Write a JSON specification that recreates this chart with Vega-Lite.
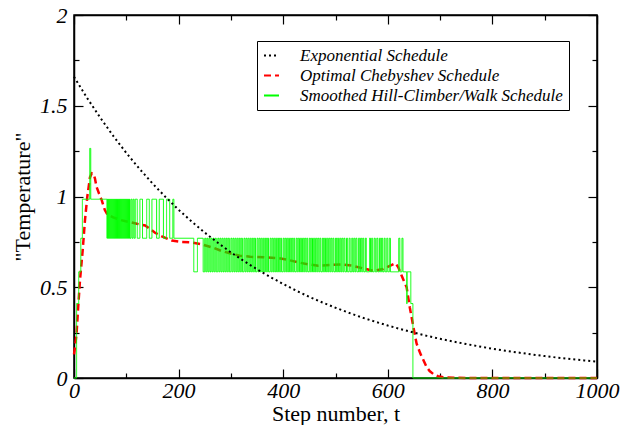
{
  "$schema": "https://vega.github.io/schema/vega-lite/v6.json",
  "width": 523,
  "height": 363,
  "autosize": "none",
  "padding": {"left": 74, "top": 15, "right": 32, "bottom": 47},
  "background": "white",
  "config": {
    "view": {"stroke": "black", "strokeWidth": 1.5},
    "font": "Liberation Serif, Times New Roman, serif",
    "axis": {"grid": false, "domainColor": "black", "domainWidth": 1.5, "tickColor": "black", "tickWidth": 1.2, "labelColor": "black", "titleColor": "black",
      "labelFont": "Liberation Serif, Times New Roman, serif", "labelFontStyle": "italic", "titleFont": "Liberation Serif, Times New Roman, serif"},
    "legend": {"labelFont": "Liberation Serif, Times New Roman, serif", "labelFontStyle": "italic"}
  },
  "datasets": {
    "exp": [
      {"t":0,"T":1.66},{"t":25,"T":1.543},{"t":50,"T":1.435},{"t":75,"T":1.334},{"t":100,"T":1.24},{"t":125,"T":1.153},{"t":150,"T":1.072},{"t":175,"T":0.997},{"t":200,"T":0.927},{"t":225,"T":0.862},{"t":250,"T":0.801},{"t":275,"T":0.745},{"t":300,"T":0.692},{"t":325,"T":0.644},{"t":350,"T":0.599},{"t":375,"T":0.557},{"t":400,"T":0.518},{"t":425,"T":0.481},{"t":450,"T":0.447},{"t":475,"T":0.416},{"t":500,"T":0.387},{"t":525,"T":0.36},{"t":550,"T":0.334},{"t":575,"T":0.311},{"t":600,"T":0.289},{"t":625,"T":0.269},{"t":650,"T":0.25},{"t":675,"T":0.232},{"t":700,"T":0.216},{"t":725,"T":0.201},{"t":750,"T":0.187},{"t":775,"T":0.174},{"t":800,"T":0.161},{"t":825,"T":0.15},{"t":850,"T":0.14},{"t":875,"T":0.13},{"t":900,"T":0.121},{"t":925,"T":0.112},{"t":950,"T":0.104},{"t":975,"T":0.097},{"t":1000,"T":0.09}
    ],
    "cheb": [
      {"t":0,"T":0.13},{"t":2,"T":0.17},{"t":5,"T":0.25},{"t":8,"T":0.39},{"t":11.5,"T":0.54},{"t":16.5,"T":0.7},{"t":21,"T":0.87},{"t":25.5,"T":1.0},{"t":30.5,"T":1.105},{"t":34,"T":1.128},{"t":37,"T":1.125},{"t":40,"T":1.1},{"t":43,"T":1.054},{"t":48,"T":1.015},{"t":53,"T":0.98},{"t":59,"T":0.925},{"t":64,"T":0.9},{"t":75,"T":0.885},{"t":90,"T":0.87},{"t":105,"T":0.86},{"t":120,"T":0.85},{"t":136,"T":0.84},{"t":146,"T":0.82},{"t":155,"T":0.8},{"t":168,"T":0.78},{"t":187,"T":0.757},{"t":203,"T":0.75},{"t":225,"T":0.747},{"t":244,"T":0.736},{"t":266,"T":0.718},{"t":282,"T":0.7},{"t":298,"T":0.687},{"t":317,"T":0.674},{"t":337,"T":0.668},{"t":362,"T":0.665},{"t":391,"T":0.66},{"t":410,"T":0.65},{"t":429,"T":0.637},{"t":448,"T":0.626},{"t":467,"T":0.619},{"t":493,"T":0.623},{"t":512,"T":0.626},{"t":532,"T":0.619},{"t":553,"T":0.604},{"t":572,"T":0.59},{"t":591,"T":0.6},{"t":610,"T":0.626},{"t":615,"T":0.632},{"t":620,"T":0.61},{"t":626,"T":0.567},{"t":630,"T":0.54},{"t":636,"T":0.5},{"t":642,"T":0.39},{"t":649,"T":0.28},{"t":655,"T":0.19},{"t":662,"T":0.136},{"t":668,"T":0.099},{"t":674,"T":0.062},{"t":680,"T":0.038},{"t":687,"T":0.022},{"t":696,"T":0.01},{"t":706,"T":0.004},{"t":725,"T":0.001},{"t":760,"T":0},{"t":1000,"T":0}
    ],
    "walk": [
      {"t":0,"T":0},{"t":5,"T":0.41},{"t":9,"T":0.585},{"t":13,"T":0.77},{"t":16,"T":0.985},{"t":30,"T":1.265},{"t":32,"T":0.985},
      {"t":63,"T":0.77},{"t":64,"T":0.985},{"t":65,"T":0.77},{"t":66,"T":0.985},{"t":67,"T":0.77},{"t":68,"T":0.985},{"t":69,"T":0.77},{"t":70,"T":0.985},{"t":71,"T":0.77},{"t":72,"T":0.985},{"t":73,"T":0.77},{"t":74,"T":0.985},{"t":75,"T":0.77},{"t":76,"T":0.985},{"t":77,"T":0.77},{"t":78,"T":0.985},{"t":79,"T":0.77},{"t":80,"T":0.985},{"t":81,"T":0.77},{"t":82,"T":0.985},{"t":83,"T":0.77},{"t":84,"T":0.985},{"t":85,"T":0.77},{"t":86,"T":0.985},{"t":87,"T":0.77},{"t":88,"T":0.985},{"t":89,"T":0.77},{"t":90,"T":0.985},{"t":91,"T":0.77},{"t":92,"T":0.985},{"t":93,"T":0.77},{"t":94,"T":0.985},{"t":95,"T":0.77},{"t":96,"T":0.985},{"t":97,"T":0.77},{"t":98,"T":0.985},{"t":99,"T":0.77},{"t":100,"T":0.985},{"t":101,"T":0.77},{"t":102,"T":0.985},{"t":103,"T":0.77},{"t":104,"T":0.985},{"t":105,"T":0.77},{"t":106,"T":0.985},{"t":107,"T":0.77},{"t":109,"T":0.985},{"t":111,"T":0.77},{"t":113,"T":0.985},{"t":115,"T":0.77},
      {"t":117,"T":0.985},{"t":121,"T":0.77},{"t":126,"T":0.985},{"t":131,"T":0.77},{"t":139,"T":0.985},{"t":144,"T":0.77},{"t":149,"T":0.985},{"t":158,"T":0.77},{"t":163,"T":0.985},{"t":171,"T":0.77},{"t":177,"T":0.985},{"t":183,"T":0.77},{"t":189,"T":0.985},{"t":191,"T":0.77},
      {"t":229,"T":0.585},{"t":236,"T":0.77},{"t":247,"T":0.585},
      {"t":250,"T":0.77},{"t":252,"T":0.585},{"t":254,"T":0.77},{"t":256,"T":0.585},{"t":258,"T":0.77},{"t":260,"T":0.585},{"t":262,"T":0.77},{"t":264,"T":0.585},{"t":266,"T":0.77},{"t":268,"T":0.585},{"t":270,"T":0.77},{"t":272,"T":0.585},{"t":275,"T":0.77},{"t":277,"T":0.585},{"t":279,"T":0.77},{"t":281,"T":0.585},{"t":283,"T":0.77},{"t":285,"T":0.585},{"t":287,"T":0.77},{"t":289,"T":0.585},{"t":291,"T":0.77},{"t":293,"T":0.585},{"t":295,"T":0.77},{"t":297,"T":0.585},{"t":300,"T":0.77},{"t":302,"T":0.585},{"t":304,"T":0.77},{"t":306,"T":0.585},{"t":308,"T":0.77},{"t":310,"T":0.585},{"t":312,"T":0.77},{"t":314,"T":0.585},{"t":316,"T":0.77},{"t":318,"T":0.585},{"t":320,"T":0.77},{"t":322,"T":0.585},{"t":325,"T":0.77},{"t":327,"T":0.585},{"t":329,"T":0.77},{"t":331,"T":0.585},{"t":333,"T":0.77},{"t":335,"T":0.585},{"t":337,"T":0.77},{"t":339,"T":0.585},{"t":341,"T":0.77},{"t":343,"T":0.585},{"t":345,"T":0.77},{"t":347,"T":0.585},{"t":350,"T":0.77},{"t":352,"T":0.585},{"t":354,"T":0.77},{"t":356,"T":0.585},{"t":358,"T":0.77},{"t":360,"T":0.585},{"t":362,"T":0.77},{"t":364,"T":0.585},{"t":366,"T":0.77},{"t":368,"T":0.585},{"t":370,"T":0.77},{"t":372,"T":0.585},{"t":375,"T":0.77},{"t":377,"T":0.585},{"t":379,"T":0.77},{"t":381,"T":0.585},{"t":383,"T":0.77},{"t":385,"T":0.585},{"t":387,"T":0.77},{"t":389,"T":0.585},{"t":391,"T":0.77},{"t":393,"T":0.585},{"t":395,"T":0.77},{"t":397,"T":0.585},{"t":400,"T":0.77},{"t":402,"T":0.585},{"t":404,"T":0.77},{"t":406,"T":0.585},{"t":408,"T":0.77},{"t":410,"T":0.585},{"t":412,"T":0.77},{"t":414,"T":0.585},{"t":416,"T":0.77},{"t":418,"T":0.585},{"t":420,"T":0.77},{"t":422,"T":0.585},{"t":425,"T":0.77},{"t":427,"T":0.585},{"t":429,"T":0.77},{"t":431,"T":0.585},{"t":433,"T":0.77},{"t":435,"T":0.585},{"t":437,"T":0.77},{"t":439,"T":0.585},{"t":441,"T":0.77},{"t":443,"T":0.585},{"t":445,"T":0.77},{"t":447,"T":0.585},{"t":450,"T":0.77},{"t":452,"T":0.585},{"t":454,"T":0.77},{"t":456,"T":0.585},{"t":458,"T":0.77},{"t":460,"T":0.585},{"t":462,"T":0.77},{"t":464,"T":0.585},{"t":466,"T":0.77},{"t":468,"T":0.585},{"t":470,"T":0.77},{"t":472,"T":0.585},{"t":475,"T":0.77},{"t":477,"T":0.585},{"t":479,"T":0.77},{"t":481,"T":0.585},{"t":483,"T":0.77},{"t":485,"T":0.585},{"t":487,"T":0.77},{"t":489,"T":0.585},{"t":491,"T":0.77},{"t":493,"T":0.585},{"t":495,"T":0.77},{"t":497,"T":0.585},{"t":500,"T":0.77},{"t":502,"T":0.585},{"t":504,"T":0.77},{"t":506,"T":0.585},{"t":508,"T":0.77},{"t":510,"T":0.585},{"t":512,"T":0.77},{"t":514,"T":0.585},{"t":516,"T":0.77},{"t":518,"T":0.585},
      {"t":521,"T":0.77},{"t":523,"T":0.585},{"t":526,"T":0.77},{"t":528,"T":0.585},{"t":531,"T":0.77},{"t":533,"T":0.585},{"t":535,"T":0.77},{"t":537,"T":0.585},{"t":539,"T":0.77},{"t":541,"T":0.585},{"t":544,"T":0.77},{"t":546,"T":0.585},{"t":548,"T":0.77},{"t":550,"T":0.585},{"t":552,"T":0.77},{"t":554,"T":0.585},{"t":557,"T":0.77},{"t":559,"T":0.585},{"t":565,"T":0.77},{"t":567,"T":0.585},{"t":569,"T":0.77},{"t":571,"T":0.585},{"t":574,"T":0.77},{"t":576,"T":0.585},{"t":579,"T":0.77},{"t":581,"T":0.585},{"t":584,"T":0.77},{"t":586,"T":0.585},{"t":588,"T":0.77},{"t":590,"T":0.585},{"t":593,"T":0.77},{"t":595,"T":0.585},{"t":598,"T":0.77},{"t":600,"T":0.585},{"t":603,"T":0.77},{"t":605,"T":0.585},
      {"t":621,"T":0.77},{"t":623,"T":0.585},{"t":627,"T":0.77},{"t":629,"T":0.585},{"t":636,"T":0.41},{"t":637,"T":0.585},{"t":644,"T":0.41},{"t":648,"T":0},{"t":1000,"T":0}
    ]
  },
  "layer": [
    {
      "data": {"name": "cheb"},
      "mark": {"type": "line", "strokeWidth": 2.5},
      "encoding": {
        "x": {"field": "t", "type": "quantitative", "scale": {"domain": [0, 1000], "nice": false},
          "axis": {"orient": "bottom", "values": [0,100,200,300,400,500,600,700,800,900,1000],
            "labelExpr": "datum.value % 200 === 0 ? '' + datum.value : ''",
            "tickSize": {"condition": {"test": "datum.value % 200 === 0", "value": -9}, "value": -5},
            "labelFont": "Liberation Serif, Times New Roman, serif", "labelFontStyle": "italic", "labelFontSize": 22, "labelPadding": 11, "labelFlush": false, "labelOverlap": false,
            "encode": {"labels": {"update": {"fontStyle": {"value": "italic"}, "font": {"value": "Liberation Serif"}}}},
            "title": "Step number, t", "titleFont": "Liberation Serif, Times New Roman, serif", "titleFontSize": 22, "titleFontWeight": "normal", "titlePadding": -2}},
        "y": {"field": "T", "type": "quantitative", "scale": {"domain": [0, 2], "nice": false},
          "axis": {"orient": "left", "values": [0,0.25,0.5,0.75,1,1.25,1.5,1.75,2],
            "labelExpr": "datum.value % 0.5 === 0 ? '' + datum.value : ''",
            "tickSize": {"condition": {"test": "datum.value % 0.5 === 0", "value": -9}, "value": -5},
            "labelFont": "Liberation Serif, Times New Roman, serif", "labelFontStyle": "italic", "labelFontSize": 22, "labelPadding": 16, "labelFlush": false, "labelOverlap": false,
            "encode": {"labels": {"update": {"fontStyle": {"value": "italic"}, "font": {"value": "Liberation Serif"}}}},
            "title": "\"Temperature\"", "titleFont": "Liberation Serif, Times New Roman, serif", "titleFontSize": 22, "titleFontWeight": "normal", "titlePadding": 5}},
        "color": {"datum": "Optimal Chebyshev Schedule", "type": "nominal",
          "scale": {"domain": ["Exponential Schedule", "Optimal Chebyshev Schedule", "Smoothed Hill-Climber/Walk Schedule"], "range": ["#000000", "#ff0000", "#00ff00"]},
          "legend": {"orient": "none", "legendX": 183, "legendY": 26, "title": null, "strokeColor": "black", "fillColor": "white", "padding": 6,
            "labelFont": "Liberation Serif, Times New Roman, serif", "labelFontStyle": "italic", "labelFontSize": 17, "labelColor": "black", "labelLimit": 400,
            "symbolType": "stroke", "symbolSize": 225, "symbolStrokeWidth": 2, "rowPadding": 2, "labelOffset": 20}},
        "strokeDash": {"datum": "Optimal Chebyshev Schedule", "type": "nominal",
          "scale": {"domain": ["Exponential Schedule", "Optimal Chebyshev Schedule", "Smoothed Hill-Climber/Walk Schedule"], "range": [[2, 3], [7, 4], [1, 0]]},
          "legend": {"orient": "none", "legendX": 183, "legendY": 26, "title": null}}
      }
    },
    {
      "data": {"name": "walk"},
      "mark": {"type": "line", "interpolate": "step-after", "strokeWidth": 1},
      "encoding": {
        "x": {"field": "t", "type": "quantitative",
          "axis": {"orient": "top", "values": [0,100,200,300,400,500,600,700,800,900,1000], "labels": false, "title": null,
            "tickSize": {"condition": {"test": "datum.value % 200 === 0", "value": -9}, "value": -5}}},
        "y": {"field": "T", "type": "quantitative",
          "axis": {"orient": "right", "values": [0,0.25,0.5,0.75,1,1.25,1.5,1.75,2], "labels": false, "title": null,
            "tickSize": {"condition": {"test": "datum.value % 0.5 === 0", "value": -9}, "value": -5}}},
        "color": {"datum": "Smoothed Hill-Climber/Walk Schedule", "type": "nominal"},
        "strokeDash": {"datum": "Smoothed Hill-Climber/Walk Schedule", "type": "nominal"}
      }
    },
    {
      "data": {"name": "exp"},
      "mark": {"type": "line", "strokeWidth": 2},
      "encoding": {
        "x": {"field": "t", "type": "quantitative", "axis": null},
        "y": {"field": "T", "type": "quantitative", "axis": null},
        "color": {"datum": "Exponential Schedule", "type": "nominal"},
        "strokeDash": {"datum": "Exponential Schedule", "type": "nominal"}
      }
    }
  ],
  "resolve": {"axis": {"x": "independent", "y": "independent"}}
}
